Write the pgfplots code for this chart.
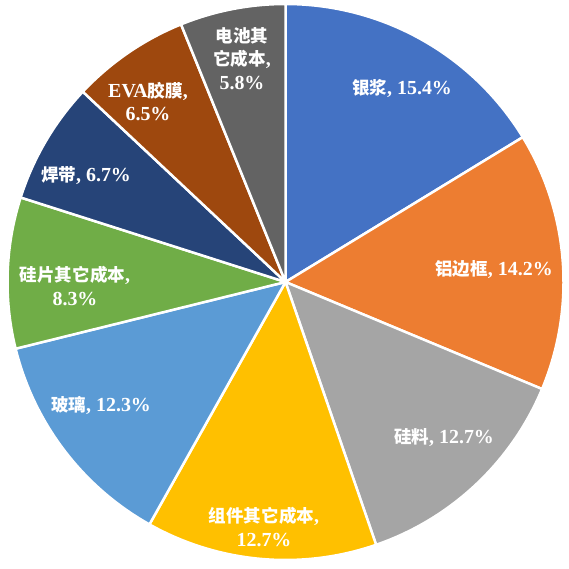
\documentclass[border=0pt]{standalone}
\usepackage{pgfplots}
\usepackage{pgfplotstable}
\pgfplotsset{compat=1.18}
\usepackage{fontspec}
\setmainfont{Liberation Serif}[BoldFont={Liberation Serif Bold}]
\newfontfamily\cjk{Noto Sans CJK SC}[Scale=0.88]
\newcommand\zh[1]{{\cjk\bfseries #1}}

\definecolor{c1}{HTML}{4472C4}
\definecolor{c2}{HTML}{ED7D31}
\definecolor{c3}{HTML}{A5A5A5}
\definecolor{c4}{HTML}{FFC000}
\definecolor{c5}{HTML}{5B9BD5}
\definecolor{c6}{HTML}{70AD47}
\definecolor{c7}{HTML}{264478}
\definecolor{c8}{HTML}{9E480E}
\definecolor{c9}{HTML}{636363}

% cost shares, clockwise from the top
\pgfplotstableread{
value color
15.4 c1
14.2 c2
12.7 c3
12.7 c4
12.3 c5
8.3  c6
6.7  c7
6.5  c8
5.8  c9
}\piedata

\def\cx{285.5}
\def\cy{287}
\def\rad{278}

\begin{document}
\begin{tikzpicture}
\begin{axis}[
    scale only axis,
    width=569bp, height=569bp,
    xmin=0, xmax=569, ymin=0, ymax=569,
    hide axis,
    clip=false,
]
\path (rel axis cs:0,0) rectangle (rel axis cs:1,1);

\def\total{0}
\pgfplotsforeachungrouped \i in {0,...,8}{%
    \pgfplotstablegetelem{\i}{value}\of\piedata
    \pgfmathsetmacro\total{\total+\pgfplotsretval}%
}
\def\cum{90}
\pgfplotsforeachungrouped \i in {0,...,8}{%
    \pgfplotstablegetelem{\i}{value}\of\piedata
    \pgfmathsetmacro\endang{\cum-360*\pgfplotsretval/\total}%
    \pgfplotstablegetelem{\i}{color}\of\piedata
    \let\col\pgfplotsretval
    \edef\temp{\noexpand\addplot[fill=\col, draw=white, line width=2.5pt,
        line join=round, domain=\endang:\cum, samples=90]
        ({\cx+\rad*cos(x)},{\cy+\rad*sin(x)}) -- (axis cs:\cx,\cy) -- cycle;}%
    \temp
    \let\cum\endang
}

\tikzset{lbl/.style={text=white, align=center, inner sep=0pt,
    font=\fontsize{20}{23.5}\selectfont\bfseries}}
\node[lbl] at (402,481) {\zh{银浆}, 15.4\%};
\node[lbl] at (494,299) {\zh{铝边框}, 14.2\%};
\node[lbl] at (444,131) {\zh{硅料}, 12.7\%};
\node[lbl] at (264,42) {\zh{组件其它成本},\\12.7\%};
\node[lbl] at (101,164) {\zh{玻璃}, 12.3\%};
\node[lbl] at (75,283) {\zh{硅片其它成本},\\8.3\%};
\node[lbl] at (86,393) {\zh{焊带}, 6.7\%};
\node[lbl] at (148,467.5) {EVA\zh{胶膜},\\6.5\%};
\node[lbl] at (242,510.5) {\zh{电池其}\\\zh{它成本},\\5.8\%};
\end{axis}
\end{tikzpicture}
\end{document}
